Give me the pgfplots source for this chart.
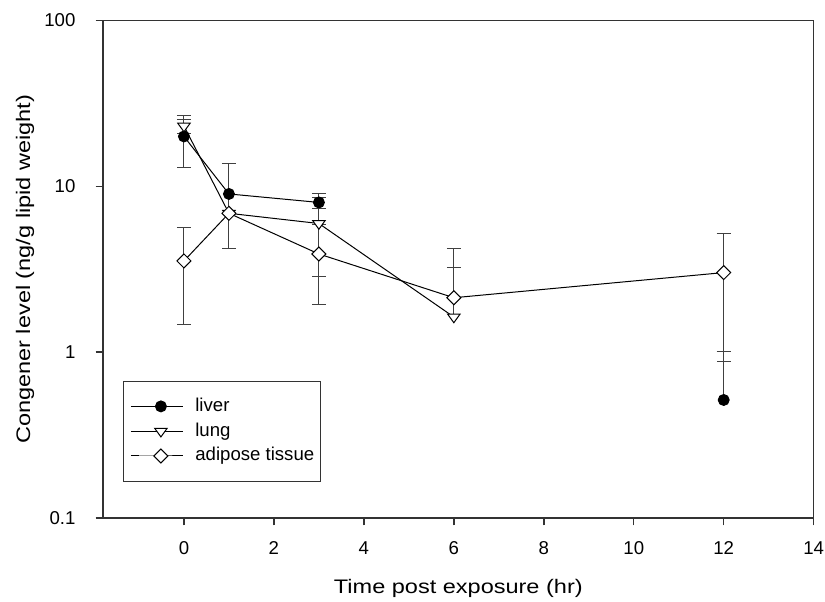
\documentclass[border=0pt]{standalone}
\usepackage{fontspec}
\setmainfont{Liberation Sans}
\newfontfamily\labelfont{Liberation Sans}[FakeStretch=1.2]
\usepackage{pgfplots}
\pgfplotsset{compat=1.18}
\begin{document}
\begin{tikzpicture}
\begin{axis}[
  scale only axis, width=533pt, height=373.1pt,
  xmin=-1.8, xmax=14, ymode=log, ymin=0.1, ymax=100,
  xtick={0,2,4,6,8,10,12,14},
  ytick={0.1,1,10,100}, yticklabels={0.1,1,10,100},
  yminorticks=false,
  tick align=outside, tick pos=left,
  major tick length=5.5pt,
  axis line style={black!80, line width=1.1pt},
  every tick/.style={black!80, line width=1.1pt},
  tick label style={font=\fontsize{13.95}{16}\selectfont, inner sep=0pt},
  /pgf/number format/assume math mode=true,
  xticklabel style={anchor=north, yshift=-11.75pt},
  yticklabel style={anchor=east, xshift=-15pt},
  xlabel={Time post exposure (hr)},
  ylabel={Congener level (ng/g lipid weight)},
  xlabel style={at={(axis description cs:0.5,-0.1508)}, anchor=base, font=\labelfont\fontsize{14.7}{17}\selectfont},
  ylabel style={at={(axis description cs:-0.1025,0.5)}, anchor=base, font=\labelfont\fontsize{14.7}{17}\selectfont},
  unbounded coords=jump,
  legend style={
    at={(axis description cs:0.0285,0.073)}, anchor=south west,
    draw=black!80, line width=0.75pt,
    font=\fontsize{13.95}{16}\selectfont,
    inner xsep=5pt, inner ysep=12.15pt,
    row sep=5.1pt,
    nodes={inner sep=0pt, text height=10.5pt, text depth=3pt},
    /tikz/every odd column/.append style={column sep=9.2pt},
  },
  legend cell align=left,
  legend image code/.code={\path (0pt,0pt) -- (6.25pt,0pt);\draw[mark repeat=2, mark phase=2] plot coordinates {(6.25pt,0pt) (22.5pt,0pt) (38.75pt,0pt)};},
]
% error bars (both directions)
\addplot[draw=none, mark=none, forget plot,
  error bars/.cd, y dir=both, y explicit,
  error bar style={draw=black!75, line width=0.75pt, solid},
  error mark options={rotate=90, mark size=5.25pt, draw=black!75, line width=0.75pt}]
  table[x=x, y=y, y error plus=ep, y error minus=em] {
x y ep em
0 20 6.6 7.0
1 9.0 4.7 4.8
3 8.0 0.6 0.6
0 23.1 2.3 2.3
3 5.97 3.1 3.1
0 3.55 2.09 2.08
3 3.91 1.96 1.96
12 3.02 2.17 2.14
};
% error bars (upper only)
\addplot[draw=none, mark=none, forget plot,
  error bars/.cd, y dir=plus, y explicit,
  error bar style={draw=black!75, line width=0.75pt, solid},
  error mark options={rotate=90, mark size=5.25pt, draw=black!75, line width=0.75pt}]
  table[x=x, y=y, y error plus=ep] {
x y ep
12 0.515 0.5
6 1.63 1.62
6 2.13 2.08
};
% liver
\addplot[black, line width=0.75pt, mark=*, mark size=4.1pt, mark options={fill=black, solid}]
  table {
x y
0 20
1 9.0
3 8.0
6 nan
12 0.515
};
\addlegendentry{liver}
% lung
\addplot[black, line width=0.75pt, mark=triangle*, mark size=4.3pt, mark options={fill=white, rotate=180, xscale=1.25, solid}]
  table {
x y
0 23.1
1 6.88
3 5.97
6 1.63
};
\addlegendentry{lung}
% adipose tissue
\addplot[black, line width=0.75pt, mark=square*, mark size=3.7pt, mark options={fill=white, rotate=45, solid}]
  table {
x y
0 3.55
1 6.88
3 3.91
6 2.13
12 3.02
};
\addlegendentry{adipose tissue}
\end{axis}
\pgfresetboundingbox
\path[use as bounding box] ([xshift=-77.25pt, yshift=-62.25pt]current axis.south west) rectangle ++(618.75pt,450.75pt);
\end{tikzpicture}
\end{document}
